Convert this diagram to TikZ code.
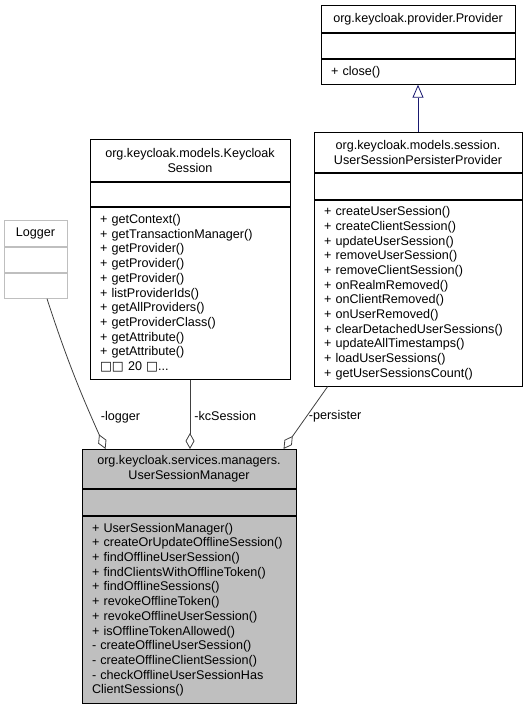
\documentclass[tikz,border=0pt]{standalone}
\usepackage{fontspec}
\setmainfont{Liberation Sans}
\newfontfamily\boxglyphs{DejaVu Sans}
\usepackage{xcolor}
\usepackage{tikz}
\usetikzlibrary{positioning,arrows.meta}

\definecolor{edgegray}{HTML}{404040}
\definecolor{basegray}{HTML}{BFBFBF}
\definecolor{navyline}{HTML}{191970}

\begin{document}
\begin{tikzpicture}[
    x=1pt, y=-1pt,
    every node/.style={font=\fontsize{12.6}{14.7}\selectfont, inner xsep=10pt, inner ysep=0pt},
    classhead/.style={rectangle, draw=black, line width=0.9pt, text width=#1, minimum height=40pt, align=center, anchor=north},
    classattr/.style={rectangle, draw=black, line width=0.9pt, text width=#1, minimum height=25pt},
    classops/.style={rectangle, draw=black, line width=0.9pt, text width=#1, align=left},
    aggregation/.style={-{Diamond[open, length=16pt, width=9pt]}, edgegray, line width=0.8pt},
    inheritance/.style={-{Triangle[open, length=13pt, width=11pt]}, navyline, line width=0.8pt},
    rolelabel/.style={anchor=west, inner sep=1pt, black},
]
\useasboundingbox (0,0) rectangle (527,707);

% === LAYOUT ===
% Top right: Provider <- UserSessionPersisterProvider
% Middle: Logger, KeycloakSession
% Bottom: UserSessionManager (the documented class)

% --- PROVIDER (top right) ---
\node[classhead=174pt, minimum height=27pt] (provhead) at (418, 5) {org.keycloak.provider.Provider};
\node[classattr=174pt, below=0pt of provhead] (provattr) {};
\node[classops=174pt, below=0pt of provattr, minimum height=25pt] (provops) {+ close()};

% --- USER SESSION PERSISTER PROVIDER ---
\node[classhead=188pt] (pershead) at (418, 132) {org.keycloak.models.session.\\UserSessionPersisterProvider};
\node[classattr=188pt, below=0pt of pershead, minimum height=26pt] (persattr) {};
\node[classops=188pt, below=0pt of persattr, minimum height=186pt] (persops) {%
+ createUserSession()\\
+ createClientSession()\\
+ updateUserSession()\\
+ removeUserSession()\\
+ removeClientSession()\\
+ onRealmRemoved()\\
+ onClientRemoved()\\
+ onUserRemoved()\\
+ clearDetachedUserSessions()\\
+ updateAllTimestamps()\\
+ loadUserSessions()\\
+ getUserSessionsCount()};

% --- KEYCLOAK SESSION ---
\node[classhead=180pt, minimum height=42pt] (kchead) at (190, 139) {org.keycloak.models.Keycloak\\Session};
\node[classattr=180pt, below=0pt of kchead, minimum height=24pt] (kcattr) {};
\node[classops=180pt, below=0pt of kcattr, minimum height=172pt] (kcops) {%
+ getContext()\\
+ getTransactionManager()\\
+ getProvider()\\
+ getProvider()\\
+ getProvider()\\
+ listProviderIds()\\
+ getAllProviders()\\
+ getProviderClass()\\
+ getAttribute()\\
+ getAttribute()\\
{\boxglyphs □□} 20 {\boxglyphs □}...};

% --- LOGGER (gray border) ---
\node[classhead=43pt, draw=basegray, minimum height=26pt] (loghead) at (35.5, 220) {Logger};
\node[classattr=43pt, draw=basegray, below=0pt of loghead] (logattr) {};
\node[classops=43pt, draw=basegray, below=0pt of logattr, minimum height=25pt] (logops) {};

% --- USER SESSION MANAGER (bottom) ---
\node[classhead=194pt, fill=basegray, minimum height=39pt] (mainhead) at (189, 449) {org.keycloak.services.managers.\\UserSessionManager};
\node[classattr=194pt, fill=basegray, below=0pt of mainhead, minimum height=26pt] (mainattr) {};
\node[classops=194pt, fill=basegray, below=0pt of mainattr, minimum height=187pt] (mainops) {%
+ UserSessionManager()\\
+ createOrUpdateOfflineSession()\\
+ findOfflineUserSession()\\
+ findClientsWithOfflineToken()\\
+ findOfflineSessions()\\
+ revokeOfflineToken()\\
+ revokeOfflineUserSession()\\
+ isOfflineTokenAllowed()\\
- createOfflineUserSession()\\
- createOfflineClientSession()\\
- checkOfflineUserSessionHas\\
ClientSessions()};

% =======================================================================
% ARROWS
% =======================================================================

% --- 1. INHERITANCE: persister -> provider ---
\draw[inheritance] (pershead.north) -- (provops.south);

% --- 2. AGGREGATIONS into UserSessionManager ---
\draw[aggregation] ([xshift=11.5pt]logops.south) to[out=-72, in=114]
    node[rolelabel, pos=0.8, xshift=8pt] {-logger}
    ([xshift=24pt]mainhead.north west);
\draw[aggregation] (kcops.south) --
    node[rolelabel, pos=0.53, xshift=3pt] {-kcSession}
    (kcops.south |- mainhead.north);
\draw[aggregation] ([xshift=14pt]persops.south west) --
    node[rolelabel, pos=0.48, xshift=1pt] {-persister}
    ([xshift=202pt]mainhead.north west);

\end{tikzpicture}
\end{document}
